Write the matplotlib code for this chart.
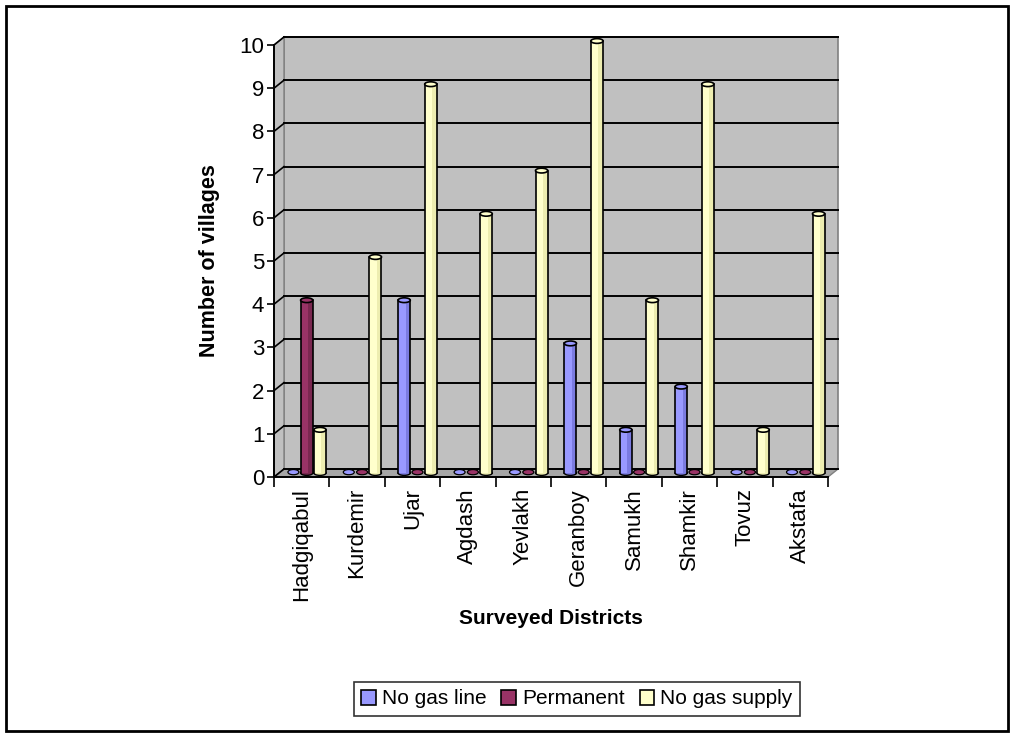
import matplotlib
matplotlib.use("Agg")
import matplotlib.pyplot as plt
from matplotlib.patches import Rectangle, Ellipse, Polygon
from matplotlib.transforms import Affine2D, IdentityTransform
from matplotlib.lines import Line2D
import numpy as np

plt.rcParams['font.family'] = ['Liberation Sans', 'DejaVu Sans']

districts = ["Hadgiqabul", "Kurdemir", "Ujar", "Agdash", "Yevlakh",
             "Geranboy", "Samukh", "Shamkir", "Tovuz", "Akstafa"]
no_gas_line = [0, 0, 4, 0, 0, 3, 1, 2, 0, 0]
permanent = [4, 0, 0, 0, 0, 0, 0, 0, 0, 0]
no_gas_supply = [1, 5, 9, 6, 7, 10, 4, 9, 1, 6]
series_names = ["No gas line", "Permanent", "No gas supply"]
series_colors = ["#9999FF", "#993366", "#FFFFCC"]
series_shades = ["#7B7BE0", "#7A2850", "#EDEDB0"]

W, H = 1011, 733
fig = plt.figure(figsize=(W / 100, H / 100), dpi=100)

# front plane of the plot in pixels
x0, x1 = 274, 828
y0, y1 = 477, 45
ax = fig.add_axes([x0 / W, 1 - y0 / H, (x1 - x0) / W, (y0 - y1) / H])
ax.set_xlim(-0.5, len(districts) - 0.5)
ax.set_ylim(0, 10)
ax.patch.set_visible(False)

DX, DY = 10, 8  # depth of the 3D box in pixels
back = ax.transData + Affine2D().translate(DX, DY)
mid = ax.transData + Affine2D().translate(DX / 2, DY / 2)

xl, xr = -0.5, len(districts) - 0.5
wall_gray = "#C0C0C0"
edge_gray = "#808080"

def to_px(pts, dx=0, dy=0):
    p = ax.transData.transform(np.array(pts, dtype=float))
    return p + np.array([dx, dy])

# back wall
ax.add_patch(Polygon([(xl, 0), (xr, 0), (xr, 10), (xl, 10)], closed=True,
                     transform=back, facecolor=wall_gray, edgecolor=edge_gray,
                     lw=1.2, clip_on=False, zorder=0))
# left side wall
front_left = to_px([(xl, 0), (xl, 10)])
back_left = to_px([(xl, 10), (xl, 0)], DX, DY)
ax.add_patch(Polygon(np.vstack([front_left, back_left]), closed=True,
                     transform=IdentityTransform(), facecolor=wall_gray,
                     edgecolor=edge_gray, lw=1.0, clip_on=False, zorder=0))
# floor
front_floor = to_px([(xl, 0), (xr, 0)])
back_floor = to_px([(xr, 0), (xl, 0)], DX, DY)
ax.add_patch(Polygon(np.vstack([front_floor, back_floor]), closed=True,
                     transform=IdentityTransform(), facecolor="#A6A6A6",
                     edgecolor=edge_gray, lw=1.0, clip_on=False, zorder=0.5))

# gridlines on back wall and side wall
for v in range(0, 11):
    ax.plot([xl, xr], [v, v], color="black", lw=1.4, transform=back,
            clip_on=False, zorder=0.6)
    seg = np.vstack([to_px([(xl, v)]), to_px([(xl, v)], DX, DY)])
    ax.add_line(Line2D(seg[:, 0], seg[:, 1], color="black", lw=1.2,
                       transform=IdentityTransform(), clip_on=False, zorder=0.6))

# cylinders
n = len(districts)
bw = 0.22
step = 0.24
cap_h = 0.11
all_series = [no_gas_line, permanent, no_gas_supply]
for s, vals in enumerate(all_series):
    for i, v in enumerate(vals):
        cx = i + (s - 1) * step
        left = cx - bw / 2
        z = 2 + i * 0.01
        if v == 0:
            ax.add_patch(Ellipse((cx, 0.02), bw * 0.9, cap_h * 1.1, transform=mid,
                                 facecolor=series_colors[s], edgecolor="black",
                                 lw=0.9, clip_on=False, zorder=z))
            continue
        ax.add_patch(Ellipse((cx, 0), bw, cap_h, transform=mid,
                             facecolor=series_shades[s], edgecolor="black",
                             lw=1.0, clip_on=False, zorder=z))
        ax.add_patch(Rectangle((left, 0), bw * 0.62, v, transform=mid,
                               facecolor=series_colors[s], edgecolor="none",
                               clip_on=False, zorder=z + 0.001))
        ax.add_patch(Rectangle((left + bw * 0.62, 0), bw * 0.38, v, transform=mid,
                               facecolor=series_shades[s], edgecolor="none",
                               clip_on=False, zorder=z + 0.001))
        ax.plot([left, left], [0, v], color="black", lw=1.2, transform=mid,
                clip_on=False, zorder=z + 0.002)
        ax.plot([left + bw, left + bw], [0, v], color="black", lw=1.2,
                transform=mid, clip_on=False, zorder=z + 0.002)
        ax.add_patch(Ellipse((cx, v), bw, cap_h, transform=mid,
                             facecolor=series_colors[s], edgecolor="black",
                             lw=1.2, clip_on=False, zorder=z + 0.003))

# axes lines and ticks
for side in ["top", "right"]:
    ax.spines[side].set_visible(False)
for side in ["left", "bottom"]:
    ax.spines[side].set_linewidth(1.4)
    ax.spines[side].set_color("black")
    ax.spines[side].set_zorder(5)

ax.set_yticks(range(0, 11))
ax.tick_params(axis="y", direction="out", length=5, width=1.2, pad=2,
               labelsize=16)
ax.set_xticks(range(n))
ax.set_xticklabels(districts, rotation=90, fontsize=16)
ax.set_xticks(np.arange(-0.5, n, 1.0), minor=True)
ax.tick_params(axis="x", which="major", length=0, pad=8)
ax.tick_params(axis="x", which="minor", direction="out", length=7, width=1.2)

ax.set_ylabel("Number of villages", fontsize=15.5, fontweight="bold", labelpad=14)
ax.set_xlabel("Surveyed Districts", fontsize=15, fontweight="bold", labelpad=6)

handles = [Rectangle((0, 0), 1, 1, facecolor=c, edgecolor="black", lw=1.2)
           for c in series_colors]
fig.legend(handles, series_names, loc="center", bbox_to_anchor=(577 / W, 1 - 699 / H),
           ncol=3, frameon=True, fancybox=False, edgecolor="black", fontsize=15,
           handlelength=0.7, handleheight=0.7, handletextpad=0.3, columnspacing=0.7,
           borderpad=0.35)
leg = fig.legends[0]
leg.get_frame().set_linewidth(1.2)

# outer border of the chart area
fig.patches.append(Rectangle((6 / W, 2 / H), 1002 / W, 725 / H, transform=fig.transFigure,
                             fill=False, edgecolor="black", lw=2, figure=fig))

fig.savefig("out.png", dpi=100)
